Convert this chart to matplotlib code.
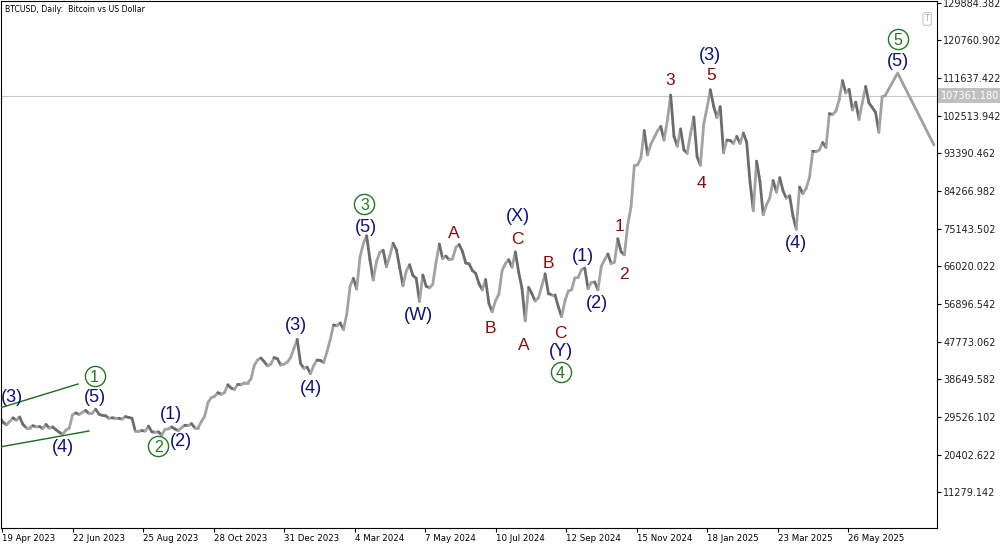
import matplotlib
matplotlib.use('Agg')
import matplotlib.pyplot as plt
import matplotlib.transforms as mtransforms
from matplotlib.collections import LineCollection
import numpy as np
import pandas as pd

# ---------------- data ----------------
start_date = '2023-04-17'
step_days = 3
closes_k = [
    29.4, 28.2, 27.6, 28.4, 29.3, 28.7, 29.5, 27.7, 26.9, 26.9,
    27.4, 27.1, 27.2, 26.7, 27.7, 26.8, 27.1, 26.4, 25.8, 25.3,
    26.3, 26.8, 30.0, 30.5, 30.1, 30.6, 31.1, 30.3, 30.4, 31.4,
    30.2, 29.9, 29.8, 29.2, 29.3, 29.2, 29.2, 29.0, 29.6, 29.4,
    29.2, 26.1, 26.1, 26.2, 26.1, 27.3, 25.9, 25.8, 25.9, 25.1,
    26.5, 26.6, 27.1, 26.6, 26.2, 26.9, 27.5, 27.4, 27.9, 26.9,
    26.9, 28.4, 29.7, 33.0, 34.2, 34.5, 35.4, 35.0, 35.4, 37.3,
    36.5, 36.2, 37.4, 37.3, 37.8, 37.8, 38.7, 42.0, 43.3, 43.8,
    42.9, 41.9, 42.3, 43.9, 43.6, 42.1, 42.3, 42.8, 43.9, 46.1,
    48.3, 42.5, 41.3, 41.6, 40.0, 42.0, 43.3, 43.2, 42.7, 45.3,
    48.3, 51.8, 51.6, 52.3, 50.7, 54.5, 61.2, 63.1, 60.5, 68.3,
    71.5, 73.4, 67.6, 62.7, 67.2, 69.4, 69.9, 65.9, 68.5, 71.6,
    70.0, 65.7, 61.3, 64.9, 66.4, 63.8, 63.1, 57.5, 63.9, 61.2,
    60.8, 61.6, 67.0, 71.4, 67.9, 68.5, 67.6, 67.8, 70.6, 71.3,
    69.6, 66.8, 66.6, 65.0, 64.3, 61.8, 60.3, 62.8, 57.0, 55.0,
    57.7, 59.2, 65.0, 66.7, 67.6, 65.8, 69.5, 64.6, 60.7, 52.8,
    60.9, 59.4, 57.6, 58.4, 61.2, 64.2, 59.4, 59.1, 59.1, 56.2,
    53.8, 57.6, 60.0, 60.3, 63.2, 63.3, 65.2, 65.6, 60.6, 62.1,
    62.2, 60.3, 66.0, 67.6, 69.0, 66.7, 67.0, 72.7, 69.5, 68.8,
    76.0, 80.4, 90.4, 90.6, 92.3, 98.9, 93.0, 95.6, 97.2, 98.8,
    99.9, 96.6, 101.4, 107.5, 97.5, 95.1, 99.3, 94.2, 93.4, 98.1,
    102.2, 92.5, 90.5, 100.5, 104.4, 108.8, 104.8, 102.1, 104.7, 93.5,
    96.6, 96.5, 95.8, 97.5, 95.8, 98.3, 96.1, 86.5, 79.5, 91.5,
    86.7, 78.5, 80.9, 82.6, 86.8, 84.0, 87.5, 84.3, 82.5, 83.1,
    78.2, 75.0, 85.2, 83.6, 84.9, 87.5, 93.9, 93.8, 94.2, 96.0,
    94.8, 103.0, 102.8, 103.6, 106.4, 111.0, 108.0, 108.9, 103.9, 105.8,
    101.6, 105.7, 109.6, 105.6, 104.5, 103.3, 98.5, 107.1, 107.4,
]
last_price = 107361.180

x_tick_dates = ['2023-04-19', '2023-06-22', '2023-08-25', '2023-10-28', '2023-12-31',
                '2024-03-04', '2024-05-07', '2024-07-10', '2024-09-12', '2024-11-15',
                '2025-01-18', '2025-03-23', '2025-05-26']
x_tick_labels = ['19 Apr 2023', '22 Jun 2023', '25 Aug 2023', '28 Oct 2023', '31 Dec 2023',
                 '4 Mar 2024', '7 May 2024', '10 Jul 2024', '12 Sep 2024', '15 Nov 2024',
                 '18 Jan 2025', '23 Mar 2025', '26 May 2025']
y_tick_values = [11279.142, 20402.622, 29526.102, 38649.582, 47773.062, 56896.542,
                 66020.022, 75143.502, 84266.982, 93390.462, 102513.942, 111637.422,
                 120760.902, 129884.382]

# wave labels: (text, date, price)
navy_labels = [
    ('(3)', '2023-04-28', 34345), ('(5)', '2023-07-12', 34345), ('(4)', '2023-06-13', 22230),
    ('(1)', '2023-09-19', 30226), ('(2)', '2023-09-28', 23684), ('(3)', '2024-01-11', 51791),
    ('(4)', '2024-01-24', 36526), ('(5)', '2024-03-14', 75536), ('(W)', '2024-05-01', 54214),
    ('(X)', '2024-07-30', 78201), ('(1)', '2024-09-27', 68509), ('(2)', '2024-10-10', 57121),
    ('(Y)', '2024-09-07', 45249), ('(3)', '2025-01-21', 117212), ('(4)', '2025-04-09', 71659),
    ('(5)', '2025-07-10', 115758),
]
red_labels = [
    ('A', '2024-06-02', 74325), ('B', '2024-07-05', 51306), ('C', '2024-07-30', 72871),
    ('A', '2024-08-05', 47187), ('B', '2024-08-27', 67056), ('C', '2024-09-07', 50095),
    ('1', '2024-10-31', 76021), ('2', '2024-11-04', 64390), ('3', '2024-12-16', 111397),
    ('4', '2025-01-13', 86440), ('5', '2025-01-22', 112608),
]
green_labels = [
    ('1', '2023-07-12', 39433), ('2', '2023-09-08', 22472), ('3', '2024-03-13', 81109),
    ('4', '2024-09-07', 40403), ('5', '2025-07-10', 121089),
]
channel_upper = (['2023-04-17', '2023-06-27'], [31680, 37495])
channel_lower = (['2023-04-17', '2023-07-07'], [22230, 26107])
projection = (['2025-06-29', '2025-07-10', '2025-08-12'], [107520, 112850, 95405])

# ---------------- figure ----------------
W, H = 1000, 545
fig = plt.figure(figsize=(W / 100, H / 100), dpi=100)
fig.patch.set_facecolor('white')
ax = fig.add_axes([1 / W, (H - 528) / H, 936 / W, 527 / H])
ax.set_facecolor('white')

dates = pd.date_range(start_date, periods=len(closes_k), freq=f'{step_days}D')
xnum = matplotlib.dates.date2num(dates)
closes = np.array(closes_k) * 1000.0

pts = np.column_stack([xnum, closes])
segs = np.stack([pts[:-1], pts[1:]], axis=1)
cols = np.where(closes[1:] >= closes[:-1], '#a2a2a2', '#6c6c6c')
lc = LineCollection(segs, colors=cols, linewidths=2.0, capstyle='round', zorder=2)
ax.add_collection(lc)

# current price line
ax.axhline(last_price, color='#c8c8c8', lw=0.8, zorder=1)

# channel lines
for d, p in (channel_upper, channel_lower):
    ax.plot(matplotlib.dates.date2num(pd.to_datetime(d)), p, color='#1b6e1b', lw=1.0, zorder=3)

# projection
ax.plot(matplotlib.dates.date2num(pd.to_datetime(projection[0])), projection[1],
        color='#a0a0a0', lw=2.0, zorder=3, solid_capstyle='round')

navy = '#10107a'
red = '#8e0b0b'
green = '#1f7a1f'
for t, d, p in navy_labels:
    ax.text(matplotlib.dates.date2num(pd.Timestamp(d)), p, t, color=navy, fontsize=13,
            family='Liberation Sans', ha='center', va='center', zorder=5)
for t, d, p in red_labels:
    ax.text(matplotlib.dates.date2num(pd.Timestamp(d)), p, t, color=red, fontsize=12.5,
            family='Liberation Sans', ha='center', va='center_baseline', zorder=5)
for t, d, p in green_labels:
    xx = matplotlib.dates.date2num(pd.Timestamp(d))
    ax.plot([xx], [p], marker='o', ms=14.5, mfc='none', mec=green, mew=1.0, zorder=5)
    ax.text(xx, p, t, color=green, fontsize=11.5, family='Liberation Sans',
            ha='center', va='center_baseline', zorder=6)

# axes limits
base = matplotlib.dates.date2num(pd.Timestamp('2023-04-19'))
ppd = 1.1016
ax.set_xlim(base + (1 - 2) / ppd, base + (937 - 2) / ppd)
ypp = 242.3
ax.set_ylim(129884.382 - (528 - 2.7) * ypp, 129884.382 + (2.7 - 1) * ypp)

# x ticks
ax.set_xticks(matplotlib.dates.date2num(pd.to_datetime(x_tick_dates)))
ax.set_xticklabels(x_tick_labels)
for lab in ax.get_xticklabels():
    lab.set_ha('left')
ax.tick_params(axis='x', direction='out', length=3, width=0.8, pad=1.5,
               labelsize=6.2, colors='black')

# y ticks on right
ax.yaxis.tick_right()
ax.set_yticks(y_tick_values)
ax.set_yticklabels([f'{v:.3f}' for v in y_tick_values])
ax.tick_params(axis='y', direction='out', length=3, width=0.8, pad=1.5,
               labelsize=7, colors='black')
for lab in ax.get_yticklabels():
    lab.set_color('#202020')

for s in ax.spines.values():
    s.set_color('black')
    s.set_linewidth(0.8)

# current price tag
trans = mtransforms.blended_transform_factory(ax.transAxes, ax.transData)
ax.text(1.004, last_price, f'{last_price:.3f}', transform=trans, ha='left', va='center',
        fontsize=7, color='white', zorder=10, clip_on=False,
        bbox=dict(boxstyle='square,pad=0.25', fc='#c0c0c0', ec='none'))

# title
ax.text(0.004, 0.993, 'BTCUSD, Daily:  Bitcoin vs US Dollar', transform=ax.transAxes,
        ha='left', va='top', fontsize=5.6, color='black')

# T icon
ax.text(0.9895, 0.966, 'T', transform=ax.transAxes, ha='center', va='center',
        fontsize=5.5, color='#a0a0a0',
        bbox=dict(boxstyle='round,pad=0.25', fc='white', ec='#c8c8c8', lw=0.8))

fig.savefig('out.png', dpi=100, facecolor='white')
